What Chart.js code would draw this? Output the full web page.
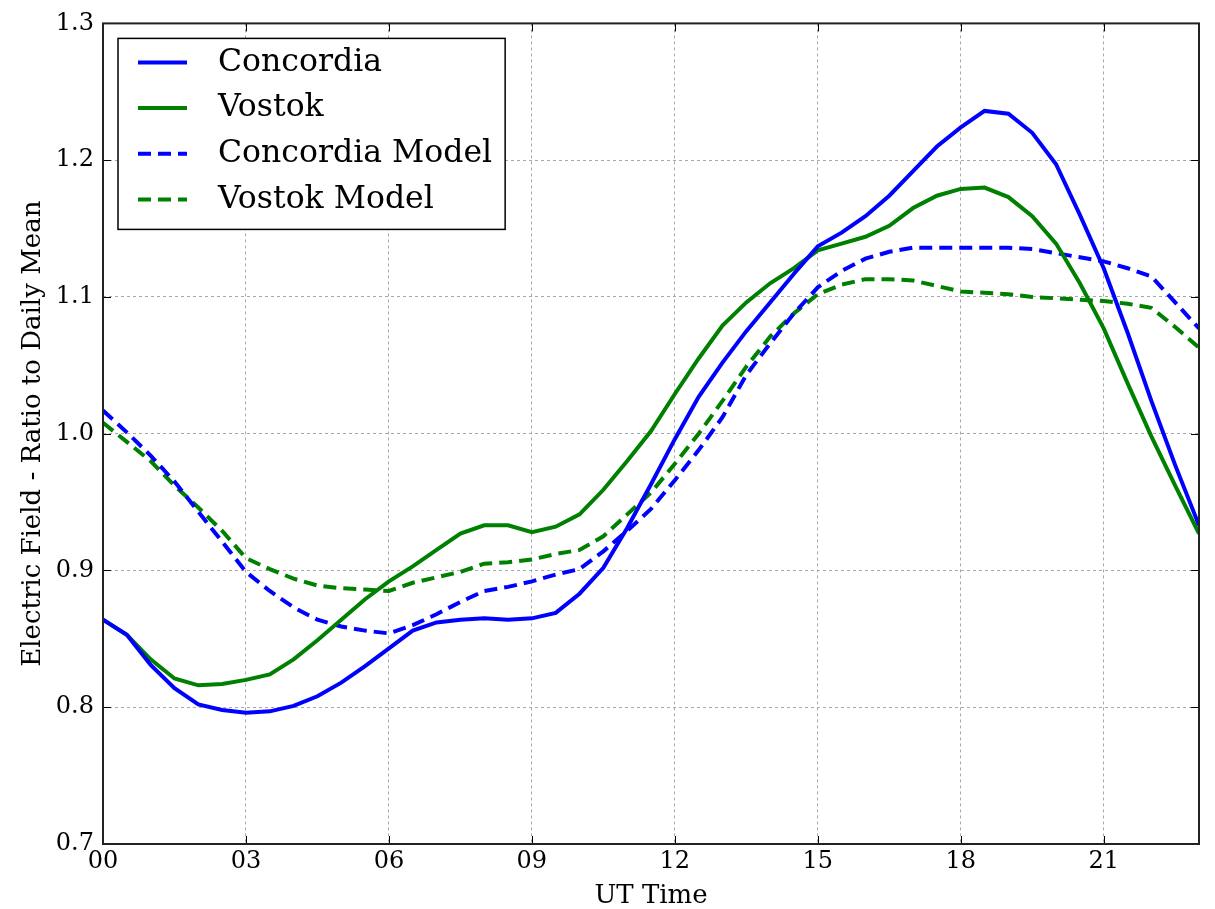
<!DOCTYPE html>
<html>
<head>
<meta charset="utf-8">
<script src="https://cdn.jsdelivr.net/npm/chart.js@4.4.1/dist/chart.umd.min.js"></script>
<style>
  html, body { margin: 0; padding: 0; background: #fff; }
  #wrap { width: 1215px; height: 909px; }
</style>
</head>
<body>
<div id="wrap"><canvas id="campo" width="1215" height="909"></canvas></div>
<script>
// horas UT, de meia em meia hora
const hours = [0, 0.5, 1, 1.5, 2, 2.5, 3, 3.5, 4, 4.5, 5, 5.5, 6, 6.5, 7, 7.5, 8, 8.5, 9, 9.5,
  10, 10.5, 11, 11.5, 12, 12.5, 13, 13.5, 14, 14.5, 15, 15.5, 16, 16.5, 17, 17.5, 18, 18.5, 19, 19.5,
  20, 20.5, 21, 21.5, 22, 22.5, 23];

const concordia = [0.864, 0.853, 0.831, 0.814, 0.802, 0.798, 0.796, 0.797, 0.801, 0.808,
  0.818, 0.830, 0.843, 0.856, 0.862, 0.864, 0.865, 0.864, 0.865, 0.869,
  0.883, 0.902, 0.931, 0.963, 0.996, 1.027, 1.052, 1.075, 1.096, 1.117,
  1.137, 1.147, 1.159, 1.174, 1.192, 1.210, 1.224, 1.236, 1.234, 1.220,
  1.197, 1.160, 1.121, 1.074, 1.024, 0.977, 0.933];

const vostok = [0.864, 0.853, 0.835, 0.821, 0.816, 0.817, 0.820, 0.824, 0.835, 0.849,
  0.864, 0.879, 0.892, 0.903, 0.915, 0.927, 0.933, 0.933, 0.928, 0.932,
  0.941, 0.959, 0.980, 1.002, 1.029, 1.055, 1.079, 1.096, 1.110, 1.121,
  1.134, 1.139, 1.144, 1.152, 1.165, 1.174, 1.179, 1.180, 1.173, 1.159,
  1.139, 1.110, 1.077, 1.037, 0.998, 0.962, 0.927];

const concordiaModel = [1.017, 1.001, 0.984, 0.965, 0.943, 0.921, 0.899, 0.885, 0.873, 0.864,
  0.859, 0.856, 0.854, 0.860, 0.868, 0.877, 0.885, 0.888, 0.892, 0.897,
  0.901, 0.914, 0.929, 0.945, 0.966, 0.988, 1.012, 1.043, 1.066, 1.088,
  1.107, 1.119, 1.128, 1.133, 1.136, 1.136, 1.136, 1.136, 1.136, 1.135,
  1.132, 1.129, 1.126, 1.121, 1.115, 1.096, 1.077];

const vostokModel = [1.008, 0.994, 0.980, 0.962, 0.946, 0.929, 0.909, 0.901, 0.894, 0.889,
  0.887, 0.886, 0.885, 0.891, 0.895, 0.899, 0.905, 0.906, 0.908, 0.912,
  0.915, 0.925, 0.941, 0.957, 0.978, 1.000, 1.024, 1.049, 1.071, 1.088,
  1.102, 1.109, 1.113, 1.113, 1.112, 1.108, 1.104, 1.103, 1.102, 1.100,
  1.099, 1.098, 1.097, 1.095, 1.092, 1.078, 1.063];

const xTicks = [0, 3, 6, 9, 12, 15, 18, 21];
const yTicks = [0.7, 0.8, 0.9, 1.0, 1.1, 1.2, 1.3];

const serif = "'DejaVu Serif', 'Liberation Serif', serif";
const azul = '#0000ff';
const verde = '#008000';
const tracejado = [13, 7];

function pontos(valores) {
  return valores.map((v, i) => ({ x: hours[i], y: v }));
}

// moldura preta e ticks para dentro, como no matplotlib
const moldura = {
  id: 'moldura',
  afterDatasetsDraw(chart) {
    const { ctx, chartArea: a, scales } = chart;
    ctx.save();
    ctx.strokeStyle = '#000';
    ctx.lineWidth = 1;
    ctx.beginPath();
    xTicks.forEach(v => {
      const px = Math.round(scales.x.getPixelForValue(v)) + 0.5;
      ctx.moveTo(px, a.bottom); ctx.lineTo(px, a.bottom - 8);
      ctx.moveTo(px, a.top); ctx.lineTo(px, a.top + 8);
    });
    yTicks.forEach(v => {
      const py = Math.round(scales.y.getPixelForValue(v)) + 0.5;
      ctx.moveTo(a.left, py); ctx.lineTo(a.left + 8, py);
      ctx.moveTo(a.right, py); ctx.lineTo(a.right - 8, py);
    });
    ctx.stroke();
    ctx.strokeStyle = '#222';
    ctx.lineWidth = 2;
    ctx.strokeRect(a.left, a.top, a.right - a.left, a.bottom - a.top);
    ctx.restore();
  }
};

// legenda com caixa, no canto superior esquerdo da área do gráfico
const legenda = {
  id: 'legenda',
  afterDraw(chart) {
    const { ctx, chartArea: a } = chart;
    const ds = chart.data.datasets;
    ctx.save();
    ctx.font = '31.5px ' + serif;
    const larg = Math.max(...ds.map(d => ctx.measureText(d.label).width));
    const x0 = a.left + 15, y0 = a.top + 15;
    const w = 100 + larg + 13, h = 191;
    ctx.fillStyle = '#fff';
    ctx.fillRect(x0, y0, w, h);
    ctx.strokeStyle = '#000';
    ctx.lineWidth = 1.5;
    ctx.strokeRect(x0, y0, w, h);
    ds.forEach((d, i) => {
      const cy = y0 + 24 + i * 45.7;
      ctx.strokeStyle = d.borderColor;
      ctx.lineWidth = d.borderWidth;
      ctx.setLineDash(d.borderDash || []);
      ctx.beginPath();
      ctx.moveTo(x0 + 20, cy);
      ctx.lineTo(x0 + 69, cy);
      ctx.stroke();
      ctx.setLineDash([]);
      ctx.fillStyle = '#000';
      ctx.textBaseline = 'middle';
      ctx.fillText(d.label, x0 + 100, cy);
    });
    ctx.restore();
  }
};

Chart.defaults.font.family = serif;
Chart.defaults.color = '#000';

const ctx = document.getElementById('campo').getContext('2d');
new Chart(ctx, {
  type: 'line',
  data: {
    datasets: [
      { label: 'Concordia', data: pontos(concordia), borderColor: azul, borderWidth: 4 },
      { label: 'Vostok', data: pontos(vostok), borderColor: verde, borderWidth: 4 },
      { label: 'Concordia Model', data: pontos(concordiaModel), borderColor: azul, borderWidth: 4, borderDash: tracejado },
      { label: 'Vostok Model', data: pontos(vostokModel), borderColor: verde, borderWidth: 4, borderDash: tracejado }
    ]
  },
  options: {
    responsive: false,
    animation: false,
    layout: { padding: { top: 21, right: 16, left: 0, bottom: 0 } },
    elements: {
      point: { radius: 0 },
      line: { tension: 0, fill: false, borderCapStyle: 'butt' }
    },
    scales: {
      x: {
        type: 'linear',
        min: 0,
        max: 23,
        afterFit: s => { s.height = 65; },
        afterBuildTicks: s => { s.ticks = xTicks.map(v => ({ value: v })); },
        ticks: {
          padding: 3,
          font: { size: 24 },
          callback: v => String(v).padStart(2, '0')
        },
        grid: { color: '#a8a8a8', lineWidth: 1, drawTicks: false },
        border: { display: false, dash: [3, 3] },
        title: { display: true, text: 'UT Time', font: { size: 26, lineHeight: 1 }, padding: { top: 0, bottom: 0 } }
      },
      y: {
        min: 0.7,
        max: 1.3,
        afterFit: s => { s.width = 103; },
        afterBuildTicks: s => { s.ticks = yTicks.map(v => ({ value: v })); },
        ticks: {
          padding: 9,
          font: { size: 24 },
          callback: v => v.toFixed(1)
        },
        grid: { color: '#a8a8a8', lineWidth: 1, drawTicks: false },
        border: { display: false, dash: [3, 3] },
        title: { display: true, text: 'Electric Field - Ratio to Daily Mean', font: { size: 26, lineHeight: 1 }, padding: { top: 20, bottom: 0 } }
      }
    },
    plugins: {
      legend: { display: false },
      tooltip: { enabled: false }
    }
  },
  plugins: [moldura, legenda]
});
</script>
</body>
</html>
